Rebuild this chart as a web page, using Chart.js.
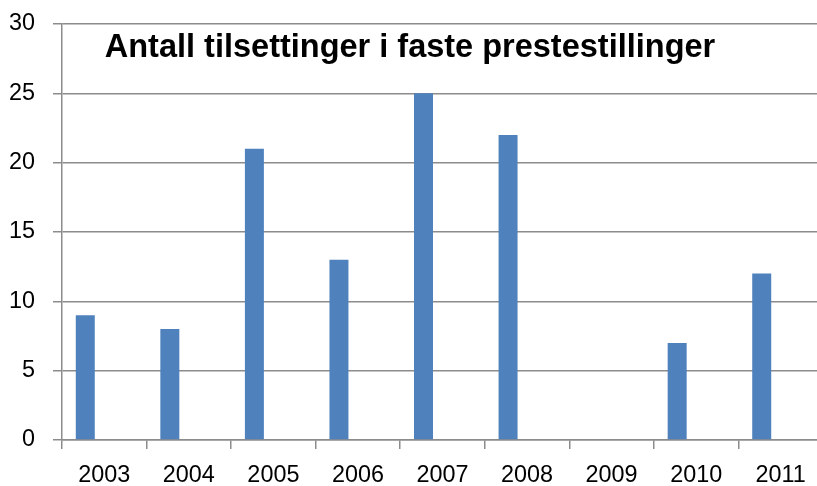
<!DOCTYPE html>
<html>
<head>
<meta charset="utf-8">
<script src="https://cdn.jsdelivr.net/npm/chart.js@4/dist/chart.umd.min.js"></script>
<style>
html,body{margin:0;padding:0;background:#fff;overflow:hidden;width:817px;height:486px;}
canvas{display:block;}
</style>
</head>
<body>
<canvas id="c" width="823" height="486"></canvas>
<script>
const title = "Antall tilsettinger i faste prestestillinger";
const categories = ["2003","2004","2005","2006","2007","2008","2009","2010","2011"];
const values = [9, 8, 21, 13, 25, 22, 0, 7, 12];
const emptySeries = [null, null, null, null, null, null, null, null, null];
const yTicks = [0, 5, 10, 15, 20, 25, 30];

const FONT = "'Liberation Sans', Arial, sans-serif";
const gridColor = "#8c8c8c";

const titlePlugin = {
  id: 'innerTitle',
  afterDraw(chart) {
    const ctx = chart.ctx;
    ctx.save();
    ctx.font = "bold 32.5px " + FONT;
    ctx.fillStyle = "#000";
    ctx.textAlign = "center";
    ctx.textBaseline = "alphabetic";
    ctx.fillText(title, 410, 57);
    ctx.restore();
  }
};

new Chart(document.getElementById('c'), {
  type: 'bar',
  data: {
    labels: categories,
    datasets: [
      { data: values, backgroundColor: '#4f81bd', borderWidth: 0,
        categoryPercentage: 0.674, barPercentage: 1.0 },
      { data: emptySeries, backgroundColor: '#c0504d', categoryPercentage: 0.674, barPercentage: 1.0 },
      { data: emptySeries, backgroundColor: '#9bbb59', categoryPercentage: 0.674, barPercentage: 1.0 }
    ]
  },
  options: {
    responsive: false,
    animation: false,
    layout: { padding: { top: 24, left: 0, right: 0, bottom: 0 } },
    plugins: { legend: { display: false }, tooltip: { enabled: false }, title: { display: false } },
    scales: {
      x: {
        grid: { offset: true, drawOnChartArea: false, drawTicks: true, tickLength: 9, color: gridColor, lineWidth: 1.5 },
        border: { display: true, color: gridColor, width: 1.5 },
        ticks: { color: '#000', font: { family: FONT, size: 23.4 }, padding: 13, maxRotation: 0, autoSkip: false },
        afterFit(scale) { scale.height = 46; scale.paddingLeft = 0; scale.paddingRight = 0; }
      },
      y: {
        min: 0, max: 30,
        afterBuildTicks(scale) { scale.ticks = yTicks.map(v => ({ value: v })); },
        grid: { drawTicks: true, tickLength: 9, color: gridColor, lineWidth: 1.5 },
        border: { display: true, color: gridColor, width: 1.5 },
        ticks: { color: '#000', font: { family: FONT, size: 23.4 }, padding: 18 },
        afterFit(scale) { scale.width = 62; scale.paddingTop = 0; scale.paddingBottom = 0; }
      }
    }
  },
  plugins: [titlePlugin]
});
</script>
</body>
</html>
